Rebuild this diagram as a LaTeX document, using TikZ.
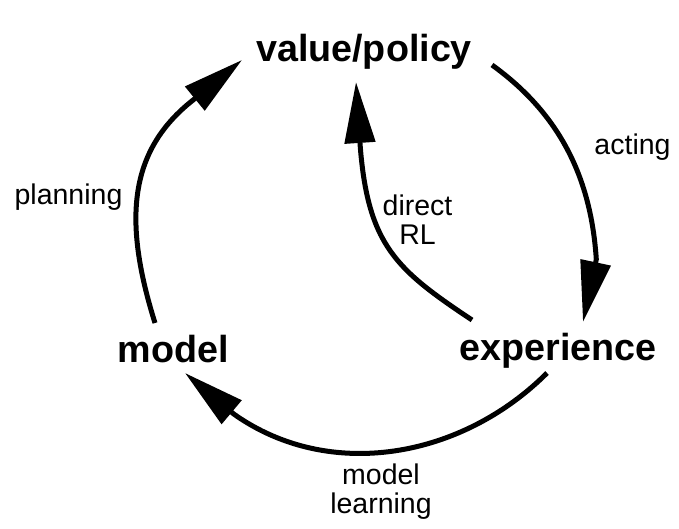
\documentclass[tikz,border=0pt]{standalone}
\usepackage{fontspec}
\setmainfont{Liberation Sans}
\usetikzlibrary{arrows.meta}
\begin{document}
\begin{tikzpicture}[x=1pt,y=-1pt,
  stage/.style={font=\fontsize{37.7}{40}\selectfont\bfseries, inner sep=0pt, anchor=base},
  lab/.style={font=\fontsize{28.5}{28.5}\selectfont, inner sep=0pt, anchor=base, align=center},
  flow/.style={line width=5pt, line cap=butt, -{Triangle[length=61pt,width=30pt]}}]
\useasboundingbox (0,0) rectangle (679,529);
% stages
\node[stage] (vp) at (364,62) {value/policy};
\node[stage] (model) at (173.5,362) {model};
\node[stage] (exp) at (558,360) {experience};
% connector points
\coordinate (act-s) at (492,65);
\coordinate (act-b) at (596.3,259.4);
\coordinate (act-t) at (583,322);
\coordinate (pl-s) at (155,323);
\coordinate (pl-b) at (192.5,100.5);
\coordinate (pl-t) at (242,60);
\coordinate (rl-s) at (472,320);
\coordinate (rl-b) at (360.2,146);
\coordinate (rl-t) at (356,82);
\coordinate (ml-s) at (547,373);
\coordinate (ml-b) at (234,414.2);
\coordinate (ml-t) at (185,373);
% connectors
\draw[flow] (act-s) .. controls (560,114) and (591,178) .. (act-b) -- (act-t);
\draw[flow] (pl-s) .. controls (122,218) and (130,150) .. (pl-b) -- (pl-t);
\draw[flow] (rl-s) .. controls (397,270) and (368,246) .. (rl-b) -- (rl-t);
\draw[flow] (ml-s) .. controls (462,458) and (330,482) .. (ml-b) -- (ml-t);
% labels
\node[lab] (lact) at (632.5,155) {acting};
\node[lab] (lpl) at (68.5,205) {planning};
\node[lab] (lrl) at (417.5,244) {direct\\RL};
\node[lab] (lml) at (381,513) {model\\learning};
\end{tikzpicture}
\end{document}
